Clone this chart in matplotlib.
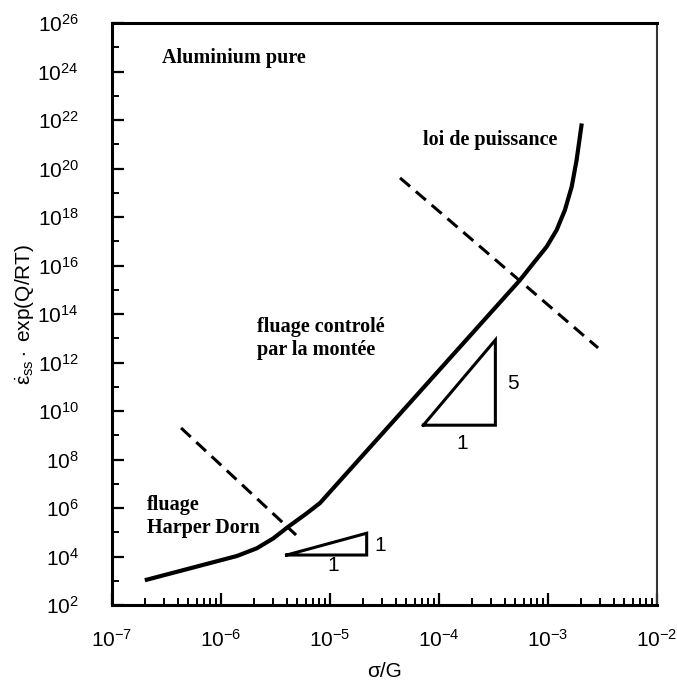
import matplotlib
matplotlib.use("Agg")
import matplotlib.pyplot as plt
from matplotlib.ticker import LogLocator, LogFormatterSciNotation, NullFormatter

# ---- data ----
curve_x = [2.0e-7, 1.4e-6, 2.13e-6, 3.02e-6, 4.14e-6, 6.11e-6, 8.09e-6,
           5.53e-4, 7.33e-4, 9.73e-4, 1.20e-3, 1.43e-3, 1.65e-3, 1.83e-3, 2.04e-3]
curve_y = [1.05e3, 1.05e4, 2.18e4, 5.6e4, 1.69e5, 6.0e5, 1.6e6,
           2.5e15, 1.23e16, 6.0e16, 2.9e17, 1.95e18, 1.78e19, 2.24e20, 7.2e21]

dash1_x = [4.3e-7, 4.88e-6]
dash1_y = [2.0e9, 7.7e4]
dash2_x = [4.39e-5, 2.88e-3]
dash2_y = [4.1e19, 4.0e12]

tri_small_x = [4.0e-6, 2.17e-5, 2.17e-5, 4.0e-6]
tri_small_y = [1.15e4, 1.15e4, 9.1e4, 1.15e4]
tri_big_x = [7.18e-5, 3.29e-4, 3.29e-4, 7.18e-5]
tri_big_y = [2.6e9, 2.6e9, 8.5e12, 2.6e9]

x_limits = [1e-7, 1e-2]
y_limits = [1e2, 1e26]

region_labels = ["Aluminium pure", "loi de puissance", "fluage controlé",
                 "par la montée", "fluage", "Harper Dorn"]
slope_labels = ["1", "1", "5", "1"]

# ---- styling ----
plt.rcParams['font.family'] = ['Liberation Sans', 'DejaVu Sans']
plt.rcParams['mathtext.fontset'] = 'custom'
plt.rcParams['mathtext.rm'] = 'Liberation Sans'
plt.rcParams['mathtext.it'] = 'Liberation Sans:italic'
plt.rcParams['mathtext.bf'] = 'Liberation Sans:bold'
plt.rcParams['lines.scale_dashes'] = False

fig = plt.figure(figsize=(6.77, 6.82), dpi=100)
ax = fig.add_axes([112/677, 1-605/682, 545/677, 582/682])

ax.set_xscale('log')
ax.set_yscale('log')
ax.set_xlim(*x_limits)
ax.set_ylim(*y_limits)

ax.plot(curve_x, curve_y, color='black', lw=3.0, solid_capstyle='butt',
        solid_joinstyle='round')
ax.plot(dash1_x, dash1_y, color='black', lw=2.2, linestyle=(0, (9.5, 5.5)))
ax.plot(dash2_x, dash2_y, color='black', lw=2.2, linestyle=(0, (9.5, 5.5)))
ax.plot(tri_small_x, tri_small_y, color='black', lw=2.2, solid_joinstyle='miter')
ax.plot(tri_big_x, tri_big_y, color='black', lw=2.2, solid_joinstyle='miter')

# ticks
ax.xaxis.set_major_locator(LogLocator(base=10, numticks=20))
ax.xaxis.set_minor_locator(LogLocator(base=10, subs=range(2, 10), numticks=20))
ax.xaxis.set_minor_formatter(NullFormatter())
ax.yaxis.set_major_locator(LogLocator(base=100, numticks=30))
ax.yaxis.set_major_formatter(LogFormatterSciNotation(base=10))
ax.yaxis.set_minor_locator(LogLocator(base=10, subs=(1.0,), numticks=40))
ax.yaxis.set_minor_formatter(NullFormatter())

ax.tick_params(axis='both', which='both', direction='in', top=False, right=False)
ax.tick_params(axis='both', which='major', length=8.5, width=1.6, labelsize=15)
ax.tick_params(axis='both', which='minor', length=5, width=1.4)
ax.tick_params(axis='y', which='major', pad=24)
ax.tick_params(axis='x', which='major', pad=17)

for side in ['left', 'bottom', 'top']:
    ax.spines[side].set_linewidth(2.2)
ax.spines['right'].set_linewidth(1.5)
ax.spines['right'].set_color('#333333')

ax.set_xlabel('σ/G', fontsize=15)
ax.xaxis.set_label_coords(0.5, -0.098)
ax.set_ylabel(r'$\dot{\mathrm{ε}}_{\mathrm{ss}}\cdot$ exp(Q/RT)', fontsize=15)
ax.yaxis.set_label_coords(-0.14, 0.5)

serif = dict(family=['Liberation Serif', 'DejaVu Serif'], fontweight='bold',
             fontsize=14.5, color='black', va='baseline', ha='left')
ax.text(2.9e-7, 10**24.35, region_labels[0], **serif)
ax.text(10**-4.147, 10**20.97, region_labels[1], **serif)
ax.text(10**-5.67, 10**13.26, region_labels[2], **serif)
ax.text(10**-5.67, 10**12.31, region_labels[3], **serif)
ax.text(10**-6.68, 10**5.92, region_labels[4], **serif)
ax.text(10**-6.68, 10**4.97, region_labels[5], **serif)

sans = dict(fontsize=15, color='black', ha='center', va='center')
ax.text(10**-4.54, 10**4.47, slope_labels[0], **sans)
ax.text(10**-4.97, 10**3.62, slope_labels[1], **sans)
ax.text(10**-3.32, 10**11.15, slope_labels[2], **sans)
ax.text(10**-3.79, 10**8.68, slope_labels[3], **sans)

fig.savefig('out.png', dpi=100, facecolor='white')
